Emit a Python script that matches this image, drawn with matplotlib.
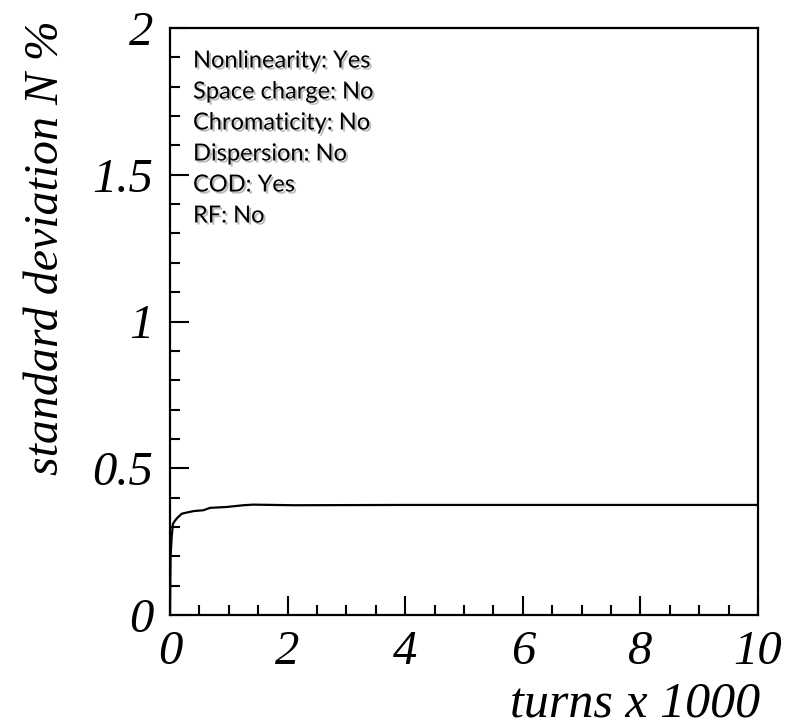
import matplotlib
matplotlib.use("Agg")
import matplotlib.pyplot as plt
import matplotlib.patheffects as pe
from matplotlib.ticker import MultipleLocator

# turns (in thousands) and standard deviation of N (%)
turns_k = [0.0, 0.01, 0.03, 0.05, 0.08, 0.12, 0.2, 0.26, 0.4, 0.57, 0.68,
           0.96, 1.25, 1.42, 2.1, 4.0, 6.0, 8.0, 10.0]
std_n = [0.0, 0.20, 0.27, 0.31, 0.32, 0.33, 0.345, 0.348, 0.354, 0.357, 0.365,
         0.368, 0.374, 0.376, 0.374, 0.375, 0.375, 0.375, 0.375]

settings = ["Nonlinearity: Yes", "Space charge: No", "Chromaticity: No",
            "Dispersion: No", "COD: Yes", "RF: No"]

x_ticks = [0, 2, 4, 6, 8, 10]
y_ticks = [0, 0.5, 1, 1.5, 2]
y_tick_labels = ["0", "0.5", "1", "1.5", "2"]

W, H = 791, 726
fig = plt.figure(figsize=(W / 100, H / 100), dpi=100)
ax = fig.add_axes([170 / W, 1 - 615 / H, (758 - 170) / W, (615 - 28) / H])

ax.plot(turns_k, std_n, color="black", lw=1.6)

ax.set_xlim(0, 10)
ax.set_ylim(0, 2)
ax.set_xticks(x_ticks)
ax.set_xticklabels([str(t) for t in x_ticks])
ax.set_yticks(y_ticks)
ax.set_yticklabels(y_tick_labels)
ax.xaxis.set_minor_locator(MultipleLocator(0.5))
ax.yaxis.set_minor_locator(MultipleLocator(0.1))

for lab in ax.get_xticklabels() + ax.get_yticklabels():
    lab.set_fontfamily("Liberation Serif")
    lab.set_fontstyle("italic")
    lab.set_fontsize(35)

ax.tick_params(which="major", direction="in", length=14, width=1.5,
               top=False, right=False)
ax.tick_params(which="minor", direction="in", length=7, width=1.5,
               top=False, right=False)
ax.tick_params(axis="x", which="major", pad=11)
ax.tick_params(axis="y", which="major", pad=12)
for s in ax.spines.values():
    s.set_linewidth(1.6)

fig.text(760 / W, 1 - 704 / H, "turns x 1000", ha="right", va="center",
         family="Liberation Serif", style="italic", size=36)
fig.text(46 / W, 1 - 20 / H, "standard deviation N %", ha="center", va="top",
         rotation=90, family="Liberation Serif", style="italic", size=34.5)

shadow = [pe.SimplePatchShadow(offset=(1.5, -1.5), shadow_rgbFace="0.55",
                               alpha=0.6), pe.Normal()]
for i, s in enumerate(settings):
    fig.text(193 / W, 1 - (61 + 31 * i) / H, s, ha="left", va="center",
             family="Lato", fontsize=17, color="black", path_effects=shadow)

fig.savefig("out.png", dpi=100)
